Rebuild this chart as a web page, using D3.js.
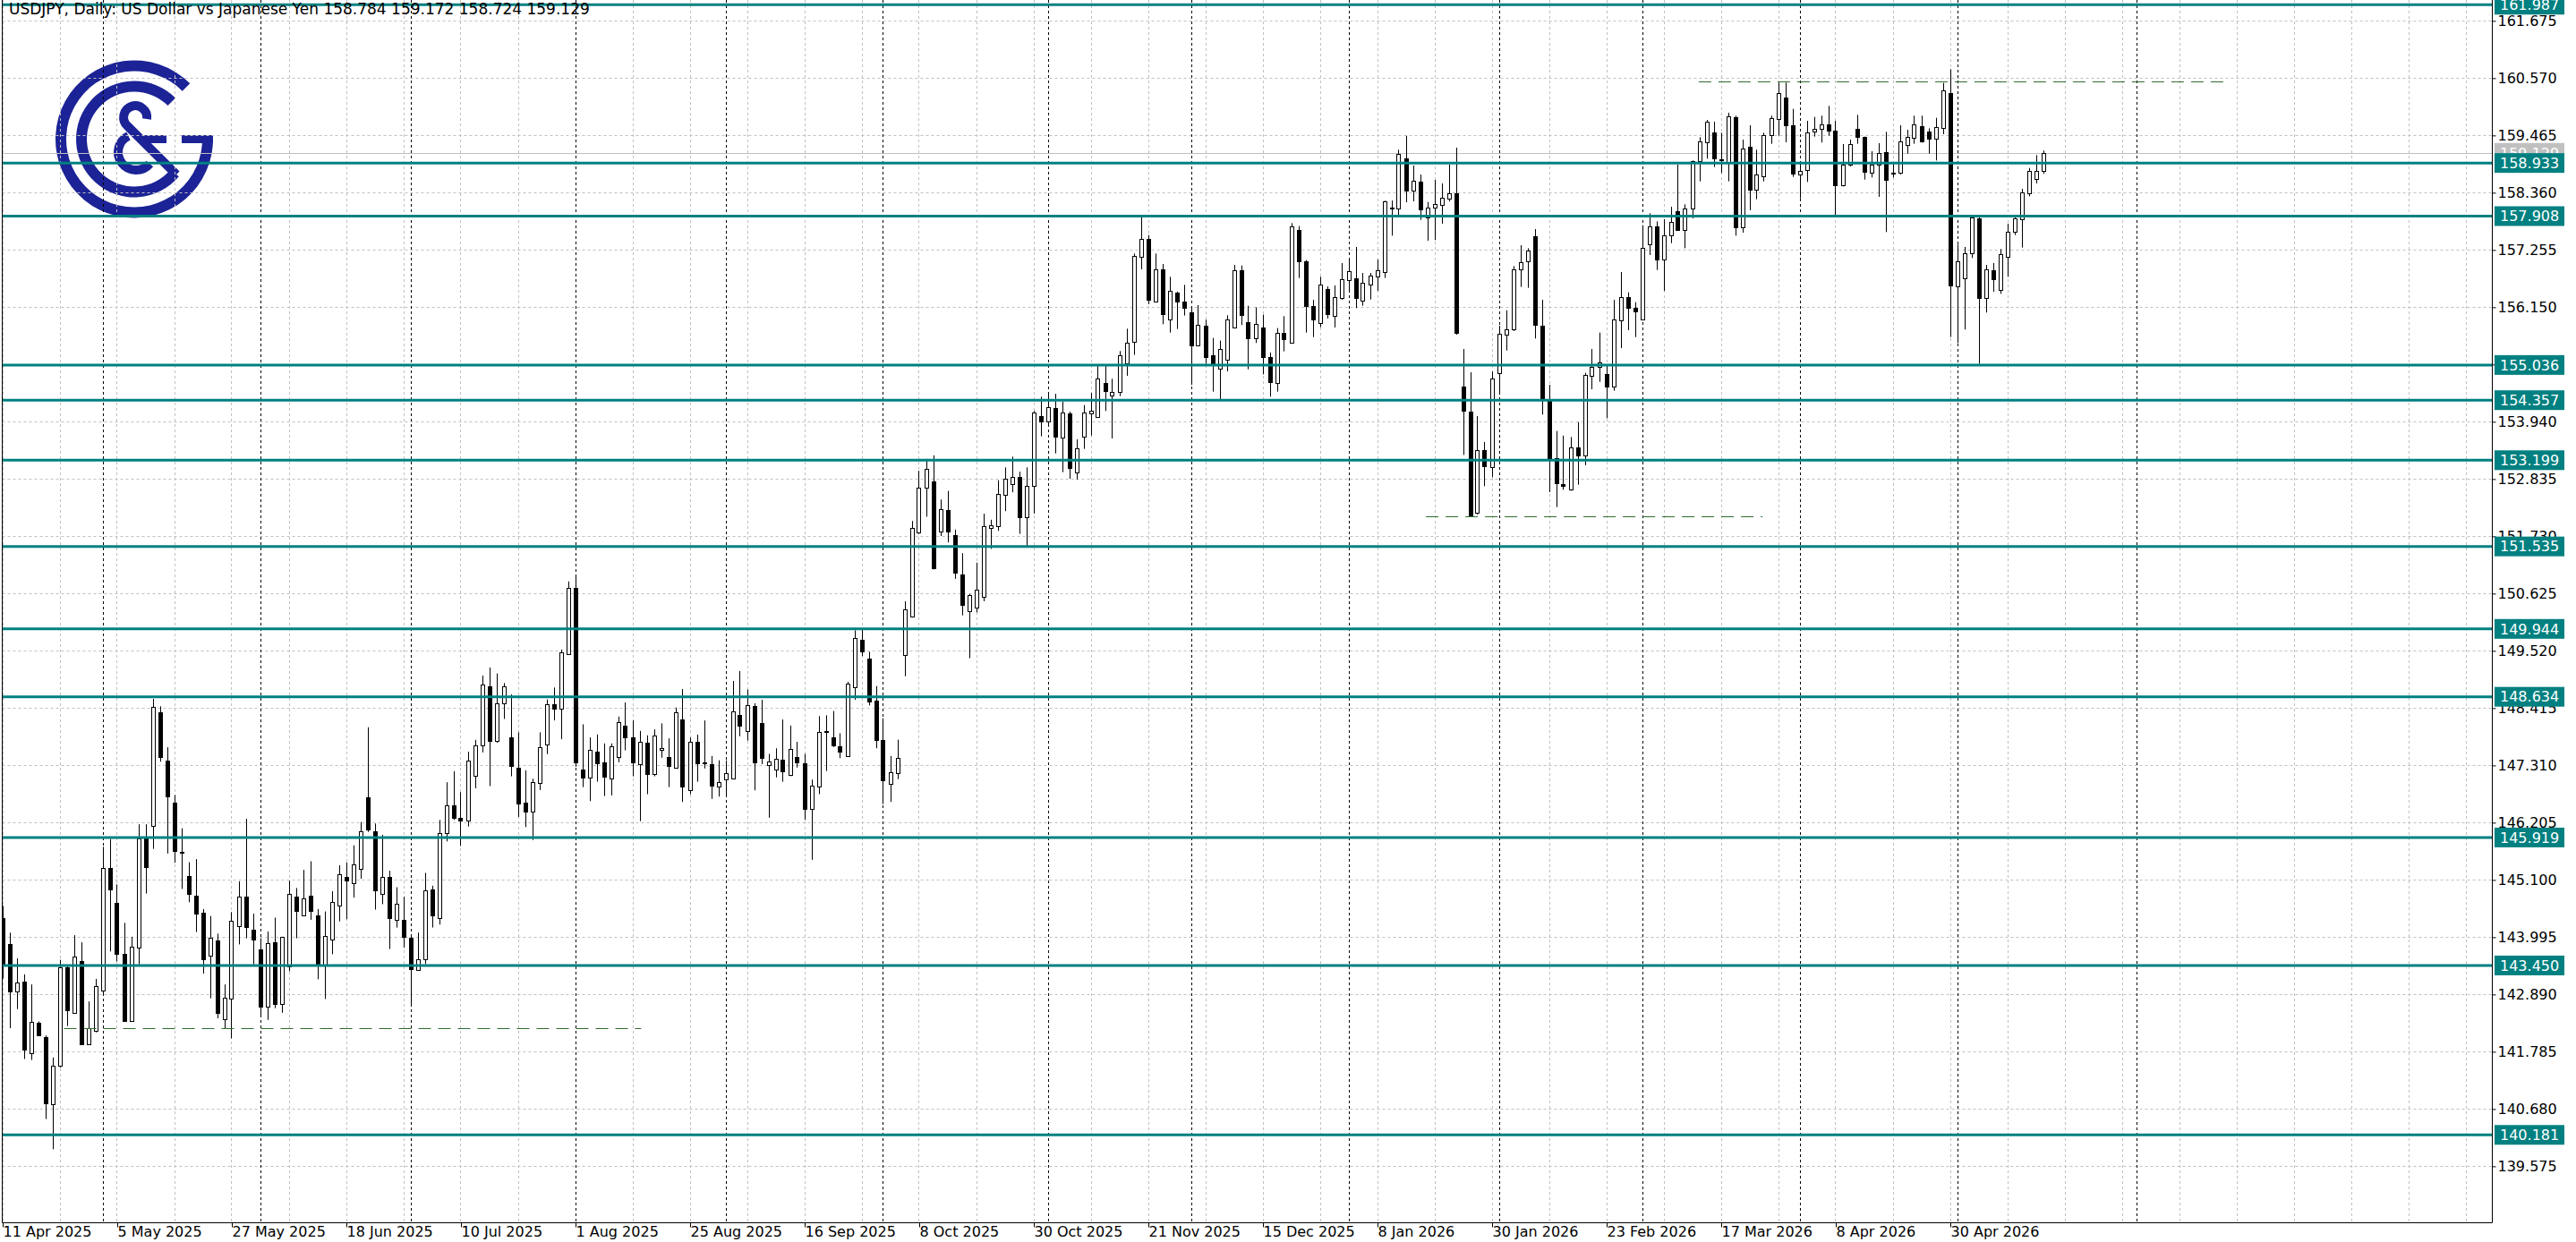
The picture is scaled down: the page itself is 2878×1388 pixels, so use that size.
<!DOCTYPE html>
<html><head><meta charset="utf-8">
<script src="https://cdn.jsdelivr.net/npm/d3@7"></script>
<style>html,body{margin:0;padding:0;background:#fff;overflow:hidden}</style>
</head><body><svg id="c" width="2878" height="1388"></svg>
<script>
// ---------------- DATA ----------------
const openP = [144.37,143.856,142.946,143.131,141.764,142.34,142.061,140.765,141.508,143.422,142.53,143.529,141.936,142.191,142.964,145.33,144.658,143.678,142.37,143.796,145.907,146.144,148.332,147.404,146.59,145.64,145.175,144.795,144.468,143.636,143.933,142.417,142.804,144.213,144.777,144.141,143.755,142.649,143.897,142.715,143.44,144.777,144.421,144.789,144.41,143.47,143.945,144.599,145.162,145.035,145.312,146.69,146.045,144.833,145.162,144.332,144.326,143.99,143.363,143.565,144.909,144.361,146.004,146.546,146.304,146.246,147.111,147.688,148.83,147.786,148.507,147.844,147.273,146.592,146.419,146.979,147.705,148.495,148.409,149.464,150.733,147.227,147.083,147.584,147.36,147.065,147.469,148.075,147.844,147.342,147.746,147.152,147.602,147.475,147.256,148.19,146.838,147.764,147.36,147.326,146.896,147.036,147.061,148.277,147.971,148.451,148.12,147.309,147.227,147.417,147.12,147.475,147.351,146.465,146.896,147.96,147.847,147.682,147.491,148.822,149.734,149.378,148.551,147.806,146.962,147.161,149.436,150.181,151.802,152.671,152.787,151.819,152.232,151.753,150.991,150.288,150.354,150.561,151.885,151.926,152.539,152.745,152.869,152.092,152.697,154.05,153.952,154.205,153.63,154.096,152.956,153.659,154.107,154.038,154.683,154.453,154.51,155.074,155.489,157.117,157.463,156.266,156.881,155.92,156.427,156.254,156.047,155.42,155.788,155.23,154.971,155.143,155.759,156.858,155.863,155.546,155.759,155.184,154.683,155.65,155.46,157.635,157.031,156.179,155.851,156.496,155.978,156.335,156.668,156.709,156.277,156.582,156.743,156.823,158.07,158.049,159.027,158.394,158.567,157.876,158.066,158.118,158.239,158.348,154.613,154.136,152.179,153.388,153.06,154.872,155.62,155.718,156.881,157.03,157.514,155.787,154.377,153.244,152.737,152.64,153.445,153.284,154.826,154.999,154.855,154.613,155.891,156.351,156.138,155.908,157.358,157.704,157.071,157.531,158.003,157.635,158.049,158.97,159.327,159.517,158.999,158.959,159.816,157.687,159.241,158.423,158.682,159.471,159.776,160.19,159.661,158.711,158.798,159.534,159.592,159.672,159.557,158.51,158.895,159.586,159.431,158.74,158.901,159.143,158.752,158.752,159.287,159.413,159.644,159.534,159.402,159.603,160.277,156.553,156.708,157.198,157.865,156.323,156.87,156.48,157.129,157.601,157.848,158.349,158.625,158.784];
const highP = [144.6,144.082,143.588,143.279,143.083,142.37,142.1,141.674,143.559,143.44,144.034,143.897,142.756,143.19,145.74,145.889,145.015,144.272,144.004,146.174,146.174,148.593,148.45,147.66,146.739,146.097,145.443,145.502,144.539,144.403,144.064,143.083,144.48,145.074,146.281,144.45,143.975,144.106,144.373,144.005,145.086,144.944,145.294,145.461,144.539,144.492,144.884,145.383,145.439,145.768,146.218,148.046,146.189,145.97,145.277,144.96,144.776,144.02,144.084,145.237,144.989,146.258,146.985,147.198,146.794,147.573,147.803,149.043,149.199,149.084,148.899,148.68,147.948,147.215,147.054,147.948,148.582,148.813,149.545,150.86,150.946,148.103,147.85,147.907,147.734,147.734,148.253,148.524,148.178,147.976,147.89,148.005,148.121,147.832,148.426,148.784,147.847,147.905,148.178,147.492,147.409,147.409,148.939,149.13,148.774,148.509,148.575,147.533,147.64,148.195,148.079,147.764,147.533,147.036,148.261,148.277,148.36,147.93,148.923,149.916,149.932,149.502,148.84,148.22,147.492,147.806,150.478,152.026,152.994,153.225,153.292,152.439,152.605,151.86,151.405,150.619,151.223,152.166,152.05,152.812,153.06,153.267,152.977,153.06,154.148,154.424,154.499,154.481,154.326,154.136,153.601,154.263,154.499,155.028,155.04,154.769,155.304,155.736,157.186,157.888,157.543,157.186,156.985,156.737,156.45,156.582,156.15,156.191,155.909,155.558,155.506,155.995,156.968,156.956,156.179,156.15,156.007,155.276,155.748,155.978,157.773,157.716,157.06,156.294,156.737,156.553,156.571,157.002,157.054,157.313,156.812,156.812,157.071,158.205,158.21,159.189,159.459,158.884,158.711,158.181,158.607,158.538,158.901,159.229,155.344,154.895,154.049,153.549,154.912,155.793,156.092,156.944,157.347,157.289,157.658,156.294,154.654,153.762,153.675,153.646,153.934,154.884,155.344,155.661,155.028,156.294,156.829,156.438,156.248,157.733,157.963,157.807,157.848,158.089,158.901,158.135,158.981,159.43,159.764,159.73,159.517,159.903,159.845,159.385,159.661,159.189,159.517,159.845,160.484,160.484,159.977,158.941,159.747,159.822,159.845,160.035,159.747,159.298,159.385,159.862,159.442,159.16,159.316,159.534,158.913,159.661,159.574,159.845,159.845,159.603,159.805,160.478,160.743,157.359,157.313,157.934,157.888,156.967,157.002,157.272,157.762,157.888,158.435,158.838,159.085,159.172];
const lowP = [143.2,142.239,142.608,141.645,141.627,142.09,140.486,139.903,141.48,142.281,142.52,141.925,141.93,142.16,142.875,143.719,143.529,142.36,142.36,143.47,144.837,145.699,147.381,145.609,145.431,144.926,144.67,144.094,143.291,142.816,142.429,142.239,142.043,143.856,143.975,143.47,142.489,142.4,142.625,142.536,143.339,143.975,144.41,144.331,143.184,142.804,143.666,144.302,144.343,144.758,145.122,146.027,144.528,144.632,143.767,144.182,143.795,142.7,143.35,143.478,144.182,144.239,145.843,146.258,145.756,146.131,146.869,147.561,146.91,147.746,148.207,147.1,146.316,146.12,145.871,146.835,147.527,148.178,147.815,149.45,147.284,146.892,146.621,146.996,146.719,146.73,147.371,147.601,147.1,146.235,146.754,147.1,147.458,146.892,147.25,146.604,146.755,146.995,147.251,146.664,146.706,146.73,147.045,147.872,147.789,146.829,147.334,146.3,147.078,146.995,147.103,147.268,146.258,145.489,146.755,147.202,147.665,147.45,147.48,148.575,149.42,148.468,147.64,146.565,146.606,147.045,149.03,150.164,151.777,152.108,151.09,151.736,151.612,150.909,150.205,149.378,150.263,150.478,151.488,151.835,152.216,152.58,151.777,151.546,152.168,153.659,153.877,153.33,152.968,152.841,152.824,153.417,153.676,154.03,154.148,153.618,154.436,154.827,155.23,156.881,156.208,156.26,155.822,155.661,155.73,155.989,154.654,155.41,155.057,154.522,154.378,154.913,155.75,155.805,154.953,155.46,154.856,154.424,154.522,155.299,155.45,156.714,155.661,155.575,155.765,155.932,155.759,156.294,156.484,156.133,156.179,156.3,156.466,156.714,157.531,157.934,158.176,158.193,157.836,157.433,157.445,157.761,158.19,155.62,153.301,152.11,152.15,152.697,152.87,154.51,155.315,155.69,156.541,156.524,155.546,154.078,152.582,152.294,152.628,152.61,152.726,153.1,154.567,154.711,154.009,154.539,155.361,155.707,155.574,155.9,157.157,156.869,156.466,157.387,157.64,157.289,157.865,158.578,159.016,158.855,158.74,158.579,157.531,157.589,158.021,158.234,158.579,159.304,159.459,159.333,158.665,158.251,158.567,159.442,159.327,159.459,157.934,158.481,158.867,159.304,158.613,158.654,158.28,157.6,158.654,158.711,159.114,159.304,159.327,159.114,158.982,159.488,155.575,155.459,155.719,157.1,155.057,156.047,156.45,156.409,156.737,157.543,157.301,158.291,158.539,158.724];
const closeP = [143.47,142.946,143.113,141.823,142.358,142.1,140.795,141.508,143.422,142.578,143.618,141.936,142.233,143.053,145.33,144.914,143.678,142.37,143.814,145.907,145.342,148.433,147.464,146.709,145.651,145.62,144.837,144.45,143.577,143.987,142.536,142.828,144.314,144.777,144.183,143.957,142.649,143.874,142.715,143.993,144.825,144.51,144.736,144.51,143.47,144.016,144.67,145.205,145.093,145.399,146.045,146.073,144.903,145.162,144.361,144.632,143.997,143.374,143.576,144.903,144.418,146.004,146.546,146.292,146.246,147.411,147.688,148.87,147.786,148.507,148.83,147.302,146.581,146.419,146.996,147.659,148.495,148.409,149.487,150.733,147.371,147.083,147.602,147.354,147.1,147.671,148.138,147.844,147.371,147.757,147.152,147.878,147.648,147.302,148.34,146.909,147.764,147.351,147.35,146.912,146.995,147.16,148.344,148.071,148.468,147.376,147.458,147.392,147.434,147.202,147.624,147.368,146.465,146.912,147.955,147.97,147.698,147.582,148.881,149.775,149.502,148.534,147.806,147.02,147.185,147.458,150.329,151.885,152.671,153.035,151.115,152.249,151.819,151.033,150.412,150.594,150.702,151.918,151.943,152.547,152.837,152.869,152.092,152.704,154.119,153.946,154.223,153.659,154.119,153.054,153.428,154.125,154.153,154.769,154.539,154.51,155.218,155.471,157.14,157.463,156.294,156.881,156.024,156.467,156.266,156.133,155.42,155.805,155.189,155.068,155.345,155.909,156.858,156.007,155.558,155.822,155.184,154.7,155.65,155.529,157.716,157.042,156.179,155.909,156.582,156.024,156.352,156.697,156.841,156.323,156.622,156.755,156.858,158.193,158.05,159.102,158.394,158.584,158.04,158.078,158.135,158.262,158.354,155.661,154.147,152.121,153.399,153.088,154.769,155.632,155.718,156.881,157.013,157.243,155.816,154.377,153.244,152.754,152.697,153.445,153.284,154.843,154.999,155.085,154.613,155.908,156.351,156.133,156.064,157.289,157.704,157.071,157.531,157.79,157.646,158.049,158.97,159.344,159.73,159.016,158.98,159.833,157.687,159.218,158.423,158.711,159.471,159.793,160.277,159.661,158.723,158.786,159.528,159.586,159.672,159.557,158.51,158.901,159.298,159.442,158.757,158.901,159.126,158.613,158.74,159.344,159.431,159.672,159.356,159.402,159.621,160.334,156.565,157.042,157.198,157.877,156.334,156.887,156.686,157.169,157.601,157.859,158.366,158.78,158.786,159.129];

const yTickLabels = ["161.675","160.570","159.465","158.360","157.255","156.150","155.045","153.940","152.835","151.730","150.625","149.520","148.415","147.310","146.205","145.100","143.995","142.890","141.785","140.680","139.575"];
const xTickLabels = ["11 Apr 2025","5 May 2025","27 May 2025","18 Jun 2025","10 Jul 2025","1 Aug 2025","25 Aug 2025","16 Sep 2025","8 Oct 2025","30 Oct 2025","21 Nov 2025","15 Dec 2025","8 Jan 2026","30 Jan 2026","23 Feb 2026","17 Mar 2026","8 Apr 2026","30 Apr 2026"];
const levelPrices = [161.987,158.933,157.908,155.036,154.357,153.199,151.535,149.944,148.634,145.919,143.450,140.181];
const currentPrice = 159.129;
const dashedLevelPrices = [142.233, 160.500, 152.121];
const dashedLevelFromBar = [8.5, 236.8, 198.7];
const dashedLevelToBar = [89.1, 310.9, 245.7];
const holidays = ["2025-12-25","2026-01-01"];
const firstDate = "2025-04-11";
const titleText = "USDJPY, Daily:  US Dollar vs Japanese Yen  158.784 159.172 158.724 159.129";

// ---------------- BUILD ----------------
const MON = ["Jan","Feb","Mar","Apr","May","Jun","Jul","Aug","Sep","Oct","Nov","Dec"];
const n = openP.length;
const dates = [];
{
  let d = new Date(firstDate + "T00:00:00Z");
  while (dates.length < n) {
    const wd = d.getUTCDay();
    const iso = d.toISOString().slice(0,10);
    if (wd !== 0 && wd !== 6 && !holidays.includes(iso)) dates.push(new Date(d));
    d = new Date(d.getTime() + 86400000);
  }
}
const fmt = d => `${d.getUTCDate()} ${MON[d.getUTCMonth()]} ${d.getUTCFullYear()}`;
const bars = d3.range(n).map(i => ({i, o:openP[i], h:highP[i], l:lowP[i], c:closeP[i]}));

const W = 2878, H = 1388;
const L = 2.5, R = 2784.5, B = 1366.5;
const x = d3.scaleLinear().domain([0, 347.25]).range([3.5, 2781.5]);
const y = d3.scaleLinear().domain([138.494, 162.078]).range([1366, 0]);

const svg = d3.select("#c");
svg.append("rect").attr("width", W).attr("height", H).attr("fill", "#fff");
const defs = svg.append("defs");
defs.append("clipPath").attr("id","plot").append("rect").attr("x", L+0.5).attr("y", 0).attr("width", R-L-1).attr("height", B-0.5);

// ---- logo (background) ----
const NAVY = "#1c2396";
const logo = svg.append("g");
const cx0 = 150, cy0 = 155.5;
const arc = d3.arc();
logo.append("path").attr("transform", `translate(${cx0},${cy0})`)
  .attr("d", arc({innerRadius:76, outerRadius:88, startAngle:(87)*Math.PI/180, endAngle:(90+315)*Math.PI/180}))
  .attr("fill", NAVY);
logo.append("rect").attr("x", 203).attr("y", 151).attr("width", 35).attr("height", 9).attr("fill", NAVY);
logo.append("path").attr("transform", `translate(${cx0},${cy0})`)
  .attr("d", arc({innerRadius:53, outerRadius:65, startAngle:(90+40)*Math.PI/180, endAngle:(90+315)*Math.PI/180}))
  .attr("fill", NAVY);
logo.append("path").attr("d", "M164,133 A13,13 0 1 0 142.6,141 L197,195")
  .attr("fill","none").attr("stroke", NAVY).attr("stroke-width", 10);
logo.append("path").attr("d", "M143.5,151.9 A20,20 0 1 0 167.3,182.9")
  .attr("fill","none").attr("stroke", NAVY).attr("stroke-width", 10);
logo.append("rect").attr("x", 160).attr("y", 151).attr("width", 26).attr("height", 9).attr("fill", NAVY);

const plot = svg.append("g").attr("clip-path","url(#plot)");

// ---- grid ----
const GRID = "#c0c0c0";
plot.append("g").selectAll("line").data(d3.range(0, 348, 8)).join("line")
  .attr("x1", d => Math.round(x(d)) - 0.5).attr("x2", d => Math.round(x(d)) - 0.5)
  .attr("y1", 0).attr("y2", B).attr("stroke", GRID).attr("stroke-width", 1).attr("stroke-dasharray", "3,3");
plot.append("g").selectAll("line").data(yTickLabels.map(Number)).join("line")
  .attr("x1", L).attr("x2", R).attr("y1", d => Math.round(y(d)) + 0.5).attr("y2", d => Math.round(y(d)) + 0.5)
  .attr("stroke", GRID).attr("stroke-width", 1).attr("stroke-dasharray", "3,3");

// ---- month separators ----
const sepIdx = [];
for (let i = 1; i < n; i++) if (dates[i].getUTCMonth() !== dates[i-1].getUTCMonth()) sepIdx.push(i);
{
  const last = dates[n-1];
  const nextMonth = new Date(Date.UTC(last.getUTCFullYear(), last.getUTCMonth()+1, 1));
  sepIdx.push(n - 1 + Math.round((nextMonth - last) / 86400000));
}
plot.append("g").selectAll("line").data(sepIdx).join("line")
  .attr("x1", d => Math.round(x(d)) - 0.5).attr("x2", d => Math.round(x(d)) - 0.5)
  .attr("y1", 0).attr("y2", B).attr("stroke", "#000").attr("stroke-width", 1).attr("stroke-dasharray", "3,3");

// ---- current price line ----
plot.append("line").attr("x1", L).attr("x2", R).attr("y1", Math.round(y(currentPrice))+0.5).attr("y2", Math.round(y(currentPrice))+0.5)
  .attr("stroke", "#c0c0c0").attr("stroke-width", 1);

// ---- candles ----
const cg = plot.append("g");
const xc = i => Math.round(x(i)) - 0.5;
cg.selectAll("line.w").data(bars).join("line").attr("class","w")
  .attr("x1", d => xc(d.i)).attr("x2", d => xc(d.i))
  .attr("y1", d => y(d.h)).attr("y2", d => y(d.l))
  .attr("stroke", "#000").attr("stroke-width", 1);
cg.selectAll("rect.b").data(bars).join("rect").attr("class","b")
  .attr("x", d => xc(d.i) - 2).attr("width", 4)
  .attr("y", d => Math.round(y(Math.max(d.o, d.c))) + 0.5)
  .attr("height", d => Math.max(1, Math.round(y(Math.min(d.o, d.c))) - Math.round(y(Math.max(d.o, d.c)))))
  .attr("fill", d => d.c >= d.o ? "#fff" : "#000")
  .attr("stroke", "#000").attr("stroke-width", 1);

// ---- horizontal levels ----
const TEAL = "#008080";
plot.append("g").selectAll("line").data(levelPrices).join("line")
  .attr("x1", L).attr("x2", R).attr("y1", d => y(d)).attr("y2", d => y(d))
  .attr("stroke", TEAL).attr("stroke-width", 3);

// ---- dashed levels ----
plot.append("g").selectAll("line").data(dashedLevelPrices).join("line")
  .attr("x1", (d,k) => x(dashedLevelFromBar[k])).attr("x2", (d,k) => x(dashedLevelToBar[k]))
  .attr("y1", d => Math.round(y(d))+0.5).attr("y2", d => Math.round(y(d))+0.5)
  .attr("stroke", "#2f6b2f").attr("stroke-width", 1).attr("stroke-dasharray", "14,8");

// ---- frame ----
svg.append("line").attr("x1", L).attr("x2", L).attr("y1", 0).attr("y2", B).attr("stroke","#000");
svg.append("line").attr("x1", L).attr("x2", R).attr("y1", B).attr("y2", B).attr("stroke","#000");
svg.append("line").attr("x1", R).attr("x2", R).attr("y1", 0).attr("y2", B).attr("stroke","#000");

// ---- title ----
const FONT = "DejaVu Sans";
svg.append("text").attr("x", 10).attr("y", 16).attr("font-family", FONT).attr("font-size", 17)
  .attr("fill", "#000").text(titleText);

// ---- y axis ----
const yAxis = d3.axisRight(y).tickValues(yTickLabels.map(Number)).tickFormat(d3.format(".3f")).tickSize(4).tickPadding(2);
const ya = svg.append("g").attr("transform", `translate(${R},0)`).call(yAxis);
ya.select(".domain").remove();
ya.selectAll(".tick line").attr("stroke", "#000");
ya.selectAll(".tick text").attr("font-family", FONT).attr("font-size", 16).attr("fill", "#000");

// ---- x axis ----
const xTickIdx = xTickLabels.map(s => dates.findIndex(d => fmt(d) === s));
const xAxis = d3.axisBottom(x).tickValues(xTickIdx).tickFormat((d, k) => xTickLabels[k]).tickSize(5).tickPadding(1);
const xa = svg.append("g").attr("transform", `translate(-0.5,${B})`).call(xAxis);
xa.select(".domain").remove();
xa.selectAll(".tick line").attr("stroke", "#000");
xa.selectAll(".tick text").attr("font-family", FONT).attr("font-size", 16).attr("fill", "#000")
  .attr("text-anchor", "start").attr("x", 0).attr("dy", "0.62em");

// ---- price labels on axis ----
const lab = svg.append("g");
lab.append("rect").attr("x", 2787).attr("y", y(currentPrice) - 11).attr("width", 78).attr("height", 22).attr("fill", "#c0c0c0");
lab.append("text").attr("x", 2793).attr("y", y(currentPrice)).attr("dy", "0.36em").attr("font-family", FONT).attr("font-size", 16)
  .attr("fill", "#fff").text(currentPrice.toFixed(3));
const lg = lab.selectAll("g.lv").data(levelPrices).join("g").attr("class","lv");
lg.append("rect").attr("x", 2787).attr("y", d => y(d) - 11).attr("width", 78).attr("height", 22).attr("fill", TEAL);
lg.append("text").attr("x", 2793).attr("y", d => y(d)).attr("dy", "0.36em").attr("font-family", FONT).attr("font-size", 16)
  .attr("fill", "#fff").text(d => d.toFixed(3));
</script></body></html>
